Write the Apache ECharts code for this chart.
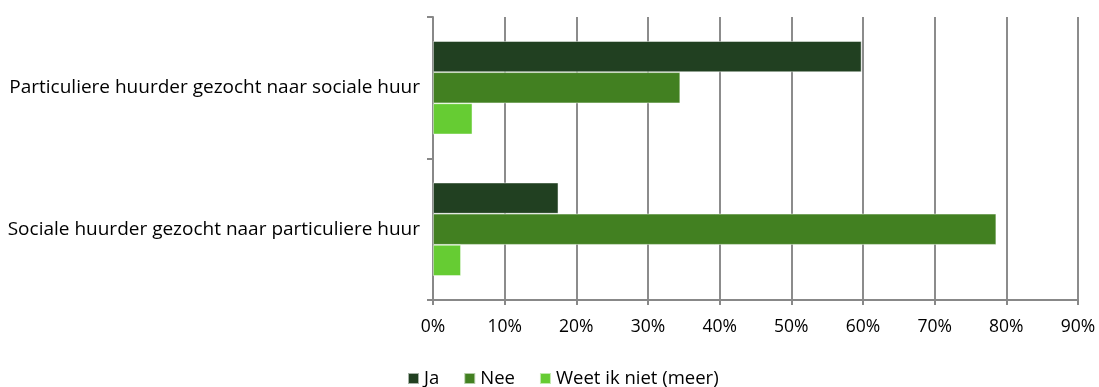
<!DOCTYPE html>
<html><head><meta charset="utf-8">
<script src="https://cdn.jsdelivr.net/npm/echarts@6/dist/echarts.min.js"></script>
<style>html,body{margin:0;padding:0;background:#fff}#c{width:1099px;height:387px}</style>
</head><body><div id="c"></div>
<script>
const categories = ["Sociale huurder gezocht naar particuliere huur", "Particuliere huurder gezocht naar sociale huur"];
const seriesNames = ["Ja", "Nee", "Weet ik niet (meer)"];
const ja = [17.5, 59.8];
const nee = [78.6, 34.5];
const weet = [3.9, 5.5];
const colors = ["#214021", "#428021", "#66CC33"];
const font = "'Open Sans', sans-serif";
const chart = echarts.init(document.getElementById('c'));
const mk = (name, data, i) => ({
  name, type: 'bar', data, barGap: '0%', barCategoryGap: '34%',
  itemStyle: { color: colors[i], borderColor: 'rgba(255,255,255,0.6)', borderWidth: 0.8 },
  emphasis: { disabled: true }
});
chart.setOption({
  animation: false,
  grid: { left: 433, right: 21, top: 17, bottom: 87, containLabel: false },
  legend: {
    top: 369, left: 407, padding: 0, itemWidth: 11, itemHeight: 11, itemGap: 24,
    icon: 'rect', textStyle: { fontFamily: font, fontSize: 18.5, color: '#000' },
    data: seriesNames
  },
  xAxis: {
    type: 'value', min: 0, max: 90, interval: 10,
    axisLabel: { formatter: '{value}%', fontFamily: font, fontSize: 17.5, color: '#000', margin: 18 },
    axisLine: { show: true, lineStyle: { color: '#888', width: 2 } },
    axisTick: { show: true, length: 5, lineStyle: { color: '#888', width: 2 } },
    splitLine: { show: true, lineStyle: { color: '#8c8c8c', width: 2 } }
  },
  yAxis: {
    type: 'category', data: categories,
    axisLabel: { fontFamily: font, fontSize: 19, color: '#000', margin: 13 },
    axisLine: { show: true, lineStyle: { color: '#888', width: 2 } },
    axisTick: { show: true, length: 6, lineStyle: { color: '#888', width: 2 } }
  },
  series: [mk(seriesNames[0], ja, 0), mk(seriesNames[1], nee, 1), mk(seriesNames[2], weet, 2)]
});
</script></body></html>
